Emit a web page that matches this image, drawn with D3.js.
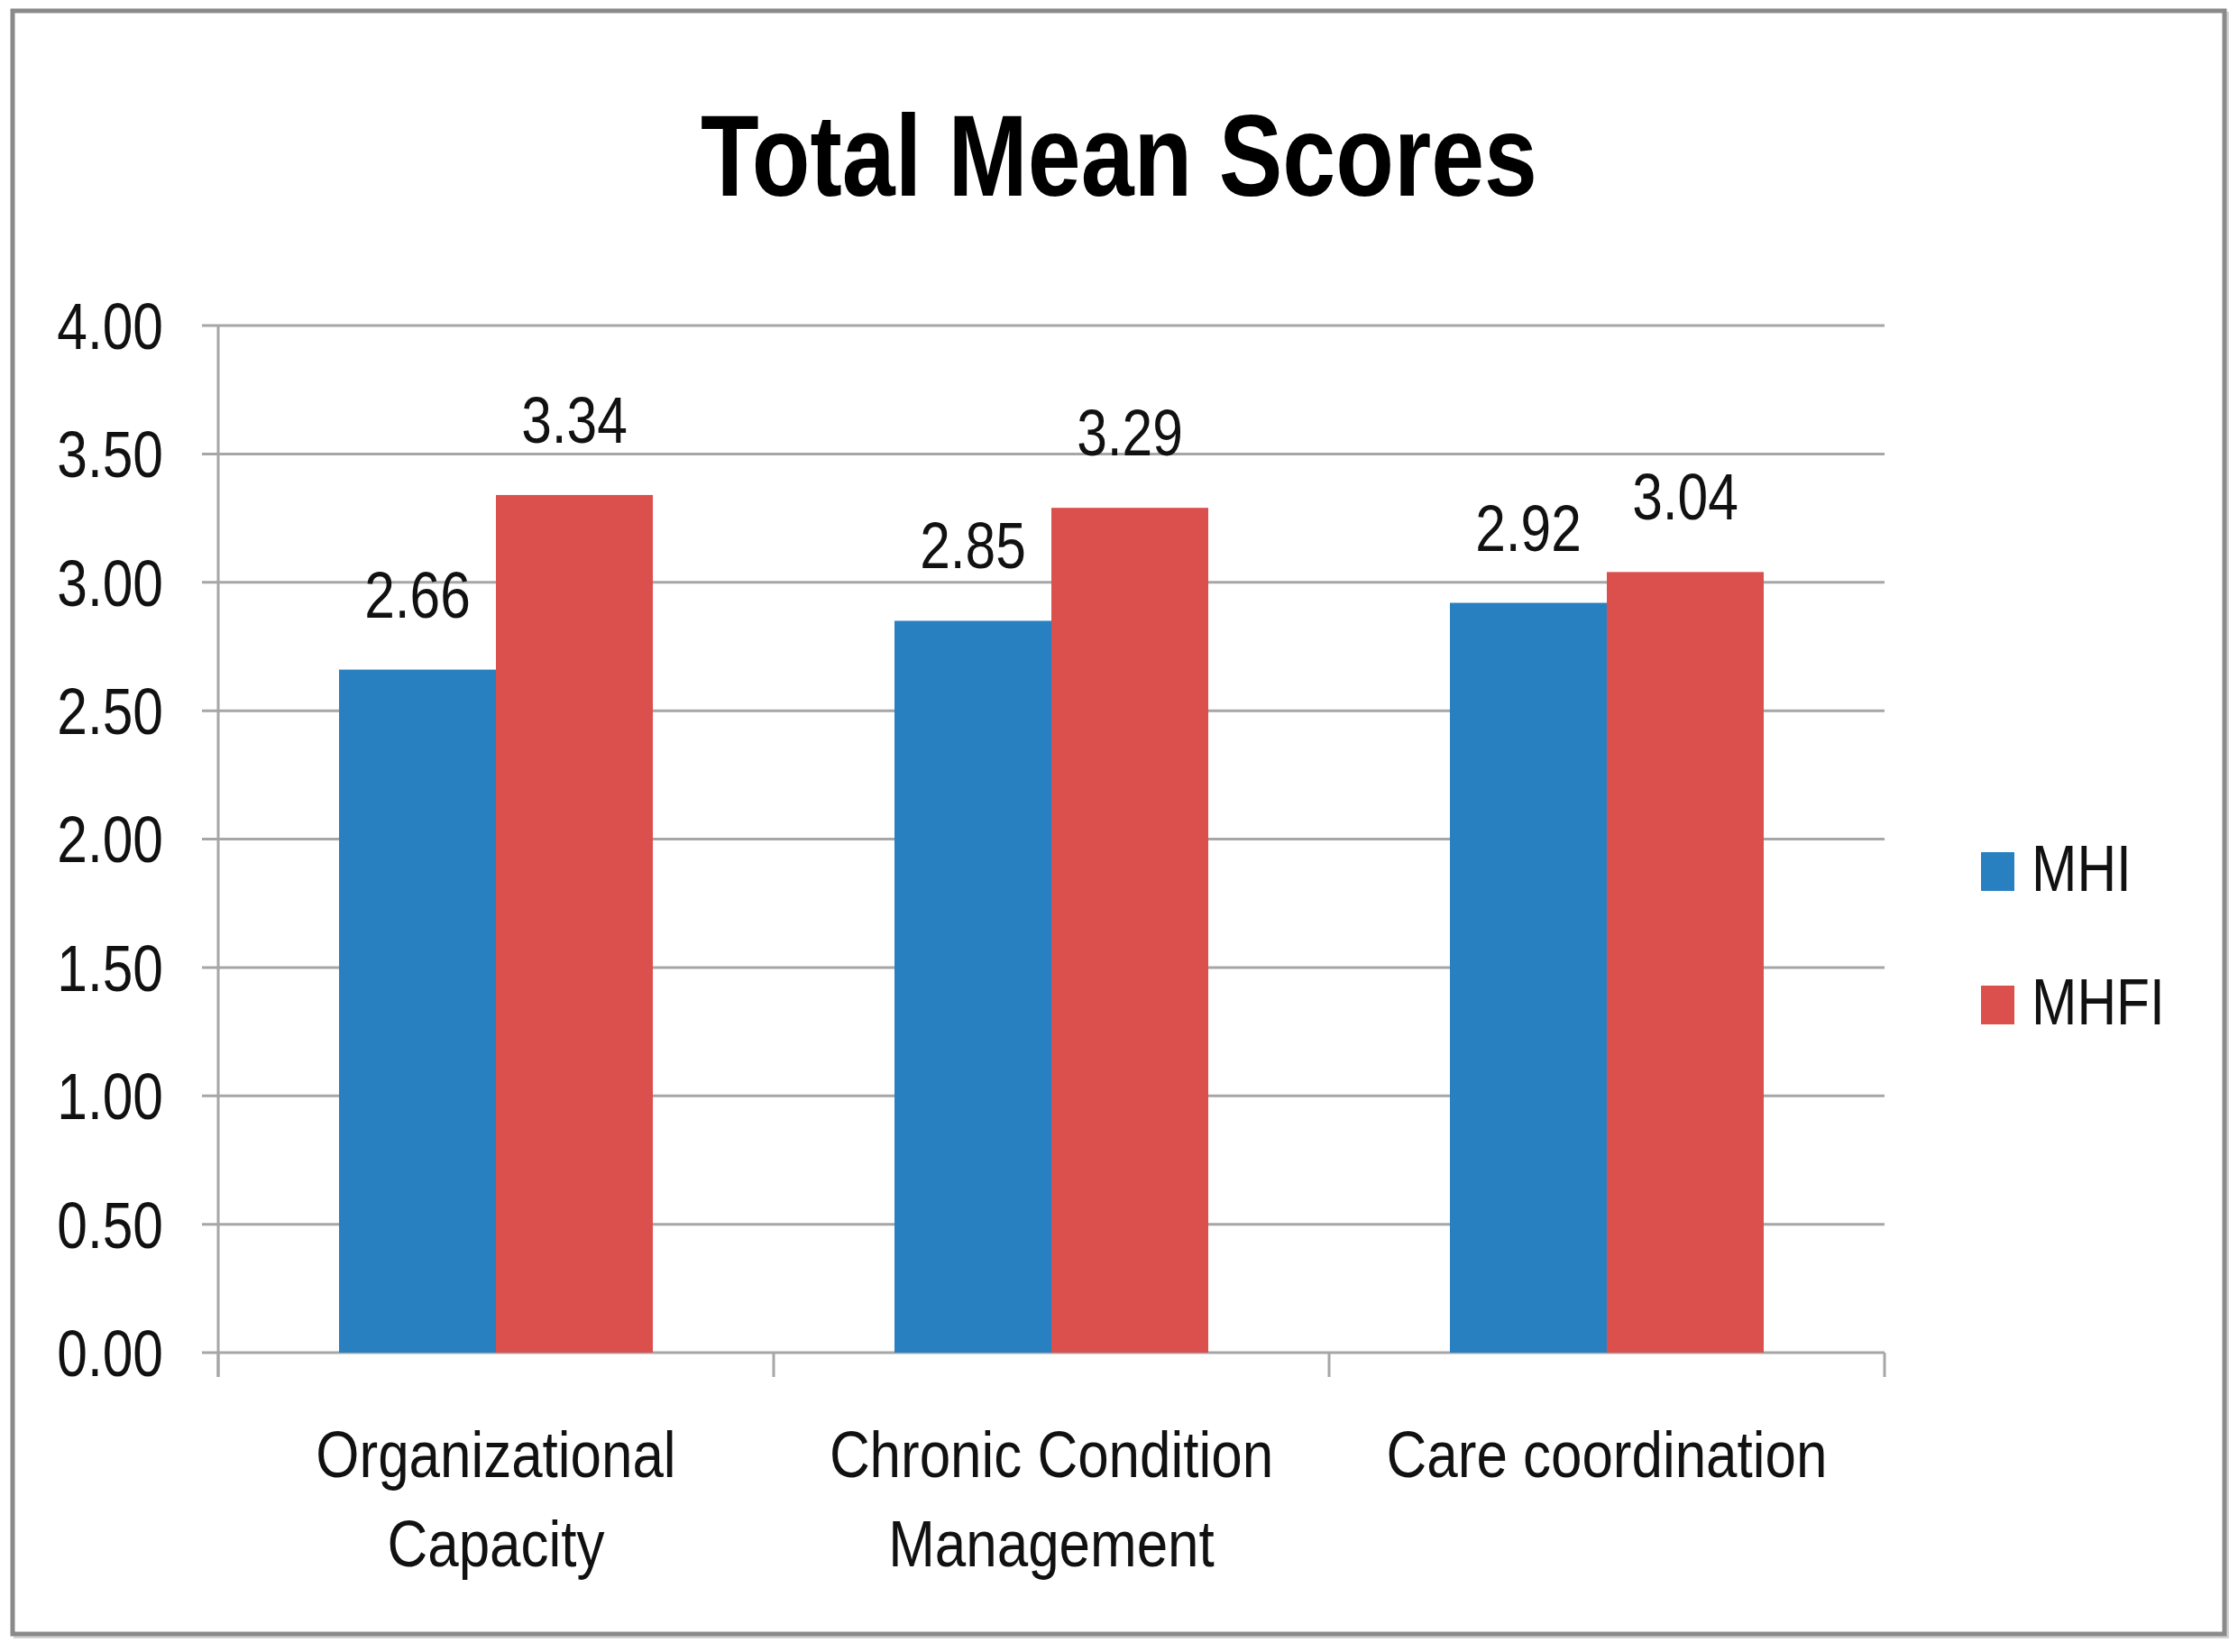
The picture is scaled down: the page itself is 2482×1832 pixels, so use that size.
<!DOCTYPE html>
<html>
<head>
<meta charset="utf-8">
<script src="https://cdn.jsdelivr.net/npm/d3@7"></script>
<style>
	body { margin: 0; background: white; }
	text { font-family: "Liberation Sans Narrow", "Liberation Sans", sans-serif; fill: #111; }
</style>
</head>
<body>
<svg id="chart"></svg>
<script>
var categories = [["Organizational", "Capacity"], ["Chronic Condition", "Management"], ["Care coordination"]];
var series = ["MHI", "MHFI"];
var mhi = [2.66, 2.85, 2.92];
var mhfi = [3.34, 3.29, 3.04];
var yTicks = [0, 0.5, 1, 1.5, 2, 2.5, 3, 3.5, 4];
var colors = ["#2980c0", "#db4f4d"];

const width = 2482;
const height = 1832;

// squeeze text horizontally, the original font is a narrow one
function narrow(sel, k) {
	sel.each(function () {
		var len = this.getComputedTextLength();
		d3.select(this)
			.attr("textLength", len * k)
			.attr("lengthAdjust", "spacingAndGlyphs");
	});
}

var svg = d3.select("#chart").attr("width", width).attr("height", height);

// frame with a light shadow
svg.append("rect")
	.attr("x", 17).attr("y", 15)
	.attr("width", 2453).attr("height", 1800)
	.attr("fill", "none")
	.attr("stroke", "#d4d4d4")
	.attr("stroke-width", 4);
svg.append("rect")
	.attr("x", 14).attr("y", 12)
	.attr("width", 2453).attr("height", 1800)
	.attr("fill", "white")
	.attr("stroke", "#8a8a8a")
	.attr("stroke-width", 5);

svg.append("text")
	.attr("x", 1241)
	.attr("y", 217)
	.attr("text-anchor", "middle")
	.attr("font-size", 128)
	.attr("font-weight", "bold")
	.attr("textLength", 928)
	.attr("lengthAdjust", "spacingAndGlyphs")
	.style("fill", "#000")
	.text("Total Mean Scores");

var plotL = 242, plotR = 2090, plotT = 361, plotB = 1500;

var x0 = d3.scaleBand()
	.domain(d3.range(categories.length))
	.range([plotL, plotR]);

var x1 = d3.scaleBand()
	.domain(series)
	.range([0, x0.bandwidth()])
	.paddingOuter(0.77);

var y = d3.scaleLinear()
	.domain([0, 4])
	.range([plotB, plotT]);

// gridlines + y labels
var yAxis = svg.append("g");
yAxis.selectAll("line")
	.data(yTicks)
	.enter()
	.append("line")
	.attr("x1", plotL - 18)
	.attr("x2", plotR)
	.attr("y1", function (d) { return y(d); })
	.attr("y2", function (d) { return y(d); })
	.attr("stroke", "#a6a6a6")
	.attr("stroke-width", 3);
yAxis.selectAll("text")
	.data(yTicks)
	.enter()
	.append("text")
	.attr("x", 181)
	.attr("y", function (d) { return y(d); })
	.attr("dy", "0.36em")
	.attr("text-anchor", "end")
	.attr("font-size", 72)
	.text(function (d) { return d3.format(".2f")(d); })
	.call(narrow, 0.84);

svg.append("line")
	.attr("x1", plotL).attr("x2", plotL)
	.attr("y1", plotT).attr("y2", plotB + 27)
	.attr("stroke", "#a6a6a6")
	.attr("stroke-width", 3);

// x category ticks
svg.selectAll(".xtick")
	.data(d3.range(categories.length + 1))
	.enter()
	.append("line")
	.attr("class", "xtick")
	.attr("x1", function (d) { return plotL + d * x0.step(); })
	.attr("x2", function (d) { return plotL + d * x0.step(); })
	.attr("y1", plotB)
	.attr("y2", plotB + 27)
	.attr("stroke", "#a6a6a6")
	.attr("stroke-width", 3);

var rows = categories.map(function (c, i) {
	return [{ s: "MHI", v: mhi[i] }, { s: "MHFI", v: mhfi[i] }];
});

var group = svg.selectAll(".grp")
	.data(rows)
	.enter()
	.append("g")
	.attr("class", "grp")
	.attr("transform", function (d, i) { return "translate(" + x0(i) + ",0)"; });

group.selectAll("rect")
	.data(function (d) { return d; })
	.enter()
	.append("rect")
	.attr("x", function (d) { return x1(d.s); })
	.attr("y", function (d) { return y(d.v); })
	.attr("width", x1.bandwidth())
	.attr("height", function (d) { return y(0) - y(d.v); })
	.attr("fill", function (d, i) { return colors[i]; });

group.selectAll("text")
	.data(function (d) { return d; })
	.enter()
	.append("text")
	.attr("x", function (d) { return x1(d.s) + x1.bandwidth() / 2; })
	.attr("y", function (d) { return y(d.v) - 58; })
	.attr("text-anchor", "middle")
	.attr("font-size", 72)
	.text(function (d) { return d3.format(".2f")(d.v); })
	.call(narrow, 0.84);

// category labels
svg.selectAll(".cat")
	.data(categories)
	.enter()
	.append("text")
	.attr("class", "cat")
	.attr("text-anchor", "middle")
	.attr("font-size", 72)
	.attr("x", function (d, i) { return x0(i) + x0.bandwidth() / 2; })
	.attr("y", 1638)
	.each(function (d) {
		var t = d3.select(this);
		d.forEach(function (line, k) {
			t.append("tspan")
				.attr("x", t.attr("x"))
				.attr("dy", k == 0 ? 0 : 99)
				.text(line)
				.call(narrow, 0.86);
		});
	});

// legend
var legend = svg.selectAll(".leg")
	.data(series)
	.enter()
	.append("g")
	.attr("class", "leg")
	.attr("transform", function (d, i) { return "translate(2197," + (945 + i * 148) + ")"; });
legend.append("rect")
	.attr("width", 37)
	.attr("height", 43)
	.attr("fill", function (d, i) { return colors[i]; });
legend.append("text")
	.attr("x", 56)
	.attr("y", 43)
	.attr("font-size", 72)
	.text(function (d) { return d; })
	.call(narrow, 0.84);
</script>
</body>
</html>
